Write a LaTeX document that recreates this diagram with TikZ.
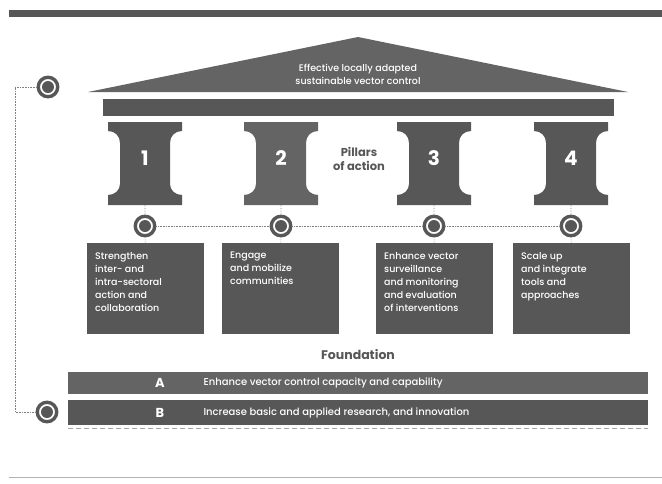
\documentclass[tikz,border=0pt]{standalone}
\usepackage{fontspec}
\setmainfont{Poppins}
\newfontfamily\semi{Poppins Medium}
\definecolor{slate}{HTML}{575757}
\definecolor{slatelight}{HTML}{646464}
\tikzset{
 target/.style={circle, draw=slate, line width=3.4pt, fill=white, minimum size=19.5pt, inner sep=0pt,
   path picture={\fill[slate] (path picture bounding box.center) circle (6);}},
 link/.style={gray, line width=0.6pt, densely dotted},
 action/.style={fill=slate, text=white, anchor=north west, inner xsep=8pt, inner ysep=9pt,
   font=\semi\fontsize{9.5}{13}\selectfont},
 bar/.style={anchor=north west, minimum width=580pt, minimum height=#1, inner sep=0pt},
 bar text/.style={text=white, anchor=west, font=\semi\fontsize{10}{12}\selectfont},
 bar letter/.style={text=white, font=\bfseries\fontsize{13}{15}\selectfont},
 pillar num/.style={text=white, font=\bfseries\fontsize{20}{22}\selectfont},
}
\newcommand\boxtext[1]{\parbox[t][73pt][t]{101pt}{\raggedright #1}}
\begin{document}
\begin{tikzpicture}[x=1pt,y=-1pt,line join=round,font=\footnotesize]
 \useasboundingbox (0,0) rectangle (662,483);
 % top rule and roof
 \fill[slate] (9,10) rectangle (662,17);
 \fill[slatelight] (88,92) -- (358,37) -- (628,92) -- cycle;
 \node[text=white, align=center, font=\semi\fontsize{9.5}{13}\selectfont] (roof) at (358,74) {Effective locally adapted\\sustainable vector control};
 \fill[slate] (103,99) rectangle (614,116);
 % pillars
 \foreach \cx/\num/\col in {145/1/slate, 281/2/slatelight, 434/3/slate, 571/4/slate}{
  \fill[\col] (\cx-37,122) -- (\cx+37,122) -- (\cx+37,131) .. controls (\cx+30,131) and (\cx+25,136) .. (\cx+25,143)
   -- (\cx+25,184) .. controls (\cx+25,190) and (\cx+30,195) .. (\cx+37,195) -- (\cx+37,205) -- (\cx-37,205)
   -- (\cx-37,195) .. controls (\cx-30,195) and (\cx-25,190) .. (\cx-25,184) -- (\cx-25,143)
   .. controls (\cx-25,136) and (\cx-30,131) .. (\cx-37,131) -- cycle;
  \node[pillar num] (n\num) at (\cx,158) {\num};
  \coordinate (p\num) at (\cx,205);
 }
 \node[text=slate, align=center, font=\bfseries\fontsize{11.5}{14}\selectfont] (title) at (359,159) {Pillars\\of action};
 % targets
 \node[target] (t1) at (145,226) {};
 \node[target] (t2) at (281,226) {};
 \node[target] (t3) at (434,226) {};
 \node[target] (t4) at (571,226) {};
 % action boxes
 \node[action] (b1) at (87,243) {\boxtext{Strengthen\\inter- and\\intra-sectoral\\action and\\collaboration}};
 \node[action] (b2) at (222,243) {\boxtext{Engage\\and mobilize\\communities}};
 \node[action] (b3) at (376,243) {\boxtext{Enhance vector\\surveillance\\and monitoring\\and evaluation\\of interventions}};
 \node[action] (b4) at (513,243) {\boxtext{Scale up\\and integrate\\tools and\\approaches}};
 \foreach \i in {1,...,4} \draw[link] (p\i) -- (t\i) (t\i) -- (b\i);
 \draw[link] (t1) -- (t2) (t2) -- (t3) (t3) -- (t4);
 % foundation
 \node[text=slate, font=\bfseries\fontsize{12.5}{14}\selectfont] (found) at (358,355) {Foundation};
 \node[bar=22pt, fill=slatelight] (barA) at (68,372) {};
 \node[bar=25pt, fill=slate] (barB) at (68,400) {};
 \node[bar letter] (la) at (160,383) {A};
 \node[bar text] (ta) at (200,383) {Enhance vector control capacity and capability};
 \node[bar letter] (lb) at (160,412.5) {B};
 \node[bar text] (tb) at (200,412.5) {Increase basic and applied research, and innovation};
 \draw[gray!70, line width=0.8pt, dash pattern=on 5pt off 3pt] (68,428) -- (648,428);
 % left link
 \node[target] (tl) at (48,87) {};
 \node[target] (tf) at (47,412) {};
 \coordinate (cl) at (15,87);
 \coordinate (cf) at (15,412);
 \draw[link] (tl) -- (cl) -- (cf) -- (tf);
 \draw[gray!60, line width=0.8pt] (9,477) -- (662,477);
\end{tikzpicture}
\end{document}
